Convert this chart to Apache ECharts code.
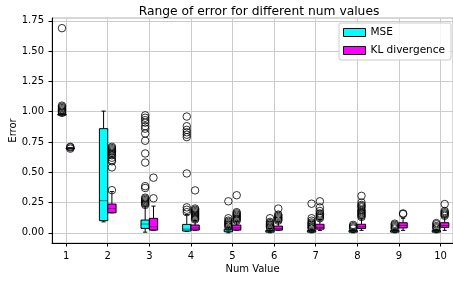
<!DOCTYPE html>
<html>
<head>
<meta charset="utf-8">
<script src="https://cdn.jsdelivr.net/npm/echarts@6/dist/echarts.min.js"></script>
<style>
  html, body { margin: 0; padding: 0; background: #fff; }
  #chart { width: 453px; height: 282px; }
</style>
</head>
<body>
<div id="chart"></div>
<script>
// num values on the x axis
const nums = [1, 2, 3, 4, 5, 6, 7, 8, 9, 10];
const yTicks = [0, 0.25, 0.5, 0.75, 1.0, 1.25, 1.5, 1.75];

// box stats per num: [min, q1, median, q3, max]
const mseStats = [
  [0.98, 0.98, 0.98, 0.98, 0.98],
  [0.09, 0.10, 0.265, 0.86, 1.005],
  [0.005, 0.036, 0.072, 0.105, 0.22],
  [0.01, 0.014, 0.03, 0.069, 0.15],
  [0.0, 0.008, 0.015, 0.03, 0.045],
  [0.0, 0.005, 0.01, 0.02, 0.035],
  [0.0, 0.005, 0.01, 0.02, 0.03],
  [0.0, 0.005, 0.01, 0.02, 0.03],
  [0.0, 0.005, 0.01, 0.02, 0.03],
  [0.0, 0.005, 0.01, 0.02, 0.03]
];
const klStats = [
  [0.70, 0.70, 0.70, 0.70, 0.70],
  [0.165, 0.165, 0.20, 0.237, 0.34],
  [0.02, 0.022, 0.05, 0.119, 0.22],
  [0.02, 0.022, 0.04, 0.064, 0.10],
  [0.02, 0.022, 0.04, 0.064, 0.095],
  [0.02, 0.022, 0.035, 0.055, 0.09],
  [0.02, 0.03, 0.045, 0.07, 0.11],
  [0.02, 0.036, 0.05, 0.07, 0.12],
  [0.02, 0.04, 0.06, 0.083, 0.12],
  [0.02, 0.045, 0.06, 0.083, 0.13]
];

// outliers per num
const mseOutliers = [
  [0.99, 1.0, 1.01, 1.02, 1.03, 1.04, 1.05, 1.69],
  [],
  [0.23, 0.24, 0.25, 0.26, 0.27, 0.28, 0.29, 0.37, 0.385, 0.58, 0.655, 0.76, 0.82, 0.86, 0.88, 0.91, 0.93, 0.95, 0.97],
  [0.17, 0.19, 0.21, 0.49, 0.79, 0.81, 0.83, 0.85, 0.88, 0.96],
  [0.05, 0.06, 0.07, 0.08, 0.09, 0.1, 0.12, 0.26],
  [0.04, 0.05, 0.06, 0.07, 0.08, 0.09, 0.12],
  [0.035, 0.045, 0.055, 0.065, 0.075, 0.085, 0.1, 0.12, 0.24],
  [0.035, 0.045, 0.055, 0.065],
  [0.035, 0.045, 0.055, 0.065, 0.075],
  [0.035, 0.045, 0.055, 0.07, 0.08]
];
const klOutliers = [
  [0.695, 0.705, 0.71],
  [0.352, 0.54, 0.59, 0.6, 0.62, 0.64, 0.65, 0.66, 0.67, 0.68, 0.69, 0.7, 0.71],
  [0.285, 0.455],
  [0.11, 0.12, 0.13, 0.14, 0.15, 0.16, 0.17, 0.18, 0.19, 0.2, 0.35],
  [0.1, 0.11, 0.12, 0.13, 0.14, 0.15, 0.16, 0.17, 0.31],
  [0.1, 0.11, 0.12, 0.13, 0.14, 0.15, 0.2],
  [0.12, 0.13, 0.14, 0.15, 0.16, 0.18, 0.21, 0.26],
  [0.13, 0.14, 0.15, 0.16, 0.17, 0.18, 0.19, 0.21, 0.22, 0.23, 0.25, 0.305],
  [0.155, 0.16],
  [0.14, 0.15, 0.16, 0.17, 0.18, 0.237]
];

const FONT = "DejaVu Sans";
const SHIFT = 0.1;     // box offset from the tick
const HALF = 0.1;      // half box width (axis units)

function boxData(stats, dx) {
  return stats.map((s, i) => [nums[i] + dx].concat(s));
}
function outlierData(outs, dx) {
  const res = [];
  outs.forEach((arr, i) => arr.forEach(v => res.push([nums[i] + dx, v])));
  return res;
}

function makeRender(color) {
  return function (params, api) {
    const x = api.value(0);
    const w = api.size([HALF, 0])[0];
    const p = k => api.coord([x, api.value(k)]);
    const pMin = p(1), pQ1 = p(2), pMed = p(3), pQ3 = p(4), pMax = p(5);
    const cx = pMin[0];
    const cap = w * 0.5;
    const line = (x1, y1, x2, y2, stroke) => ({
      type: 'line',
      shape: { x1, y1, x2, y2 },
      style: { stroke: stroke || '#000', lineWidth: 1 }
    });
    return {
      type: 'group',
      children: [
        line(cx, pQ1[1], cx, pMin[1]),
        line(cx, pQ3[1], cx, pMax[1]),
        line(cx - cap, pMin[1], cx + cap, pMin[1]),
        line(cx - cap, pMax[1], cx + cap, pMax[1]),
        {
          type: 'rect',
          shape: { x: cx - w, y: pQ3[1], width: 2 * w, height: Math.max(pQ1[1] - pQ3[1], 1) },
          style: { fill: color, stroke: '#000', lineWidth: 1 }
        },
        line(cx - w, pMed[1], cx + w, pMed[1], 'rgba(0,0,0,0.5)')
      ]
    };
  };
}

const chart = echarts.init(document.getElementById('chart'), null, { renderer: 'canvas' });

const option = {
  animation: false,
  backgroundColor: '#fff',
  textStyle: { fontFamily: FONT },
  title: {
    text: 'Range of error for different num values',
    left: 254,
    top: 1,
    textAlign: 'center',
    textStyle: { fontFamily: FONT, fontSize: 12.3, fontWeight: 'normal', color: '#000' }
  },
  legend: {
    orient: 'vertical',
    left: 339,
    top: 23,
    padding: [4, 6, 4, 4],
    itemGap: 7,
    itemWidth: 22,
    itemHeight: 8,
    backgroundColor: 'rgba(255,255,255,0.8)',
    borderColor: '#ccc',
    borderWidth: 1,
    borderRadius: 2,
    textStyle: { fontFamily: FONT, fontSize: 10.5, color: '#000' },
    data: [
      { name: 'MSE', icon: 'rect', itemStyle: { color: '#00ffff', borderColor: '#000', borderWidth: 1 } },
      { name: 'KL divergence', icon: 'rect', itemStyle: { color: '#ff00ff', borderColor: '#000', borderWidth: 1 } }
    ]
  },
  grid: {
    left: 52, right: 0, top: 18, bottom: 39,
    containLabel: false,
    outerBoundsMode: 'none',
    show: true,
    borderColor: '#b0b0b0',
    borderWidth: 1
  },
  xAxis: {
    type: 'value',
    min: 0.66,
    max: 10.3,
    name: 'Num Value',
    nameLocation: 'middle',
    nameGap: 21,
    nameMoveOverlap: false,
    nameTextStyle: { fontFamily: FONT, fontSize: 10, color: '#000' },
    axisLine: { show: true, onZero: false, lineStyle: { color: '#000', width: 1 } },
    axisTick: { show: true, customValues: nums, length: 3.5, lineStyle: { color: '#000' } },
    axisLabel: { customValues: nums, margin: 8, fontFamily: FONT, fontSize: 10, color: '#000' },
    splitLine: { show: true, lineStyle: { color: '#cccccc', width: 1 } }
  },
  yAxis: {
    type: 'value',
    min: -0.0845,
    max: 1.774,
    name: 'Error',
    nameLocation: 'middle',
    nameGap: 34,
    nameMoveOverlap: false,
    nameTextStyle: { fontFamily: FONT, fontSize: 10, color: '#000' },
    axisLine: { show: true, onZero: false, lineStyle: { color: '#000', width: 1 } },
    axisTick: { show: true, customValues: yTicks, length: 3.5, lineStyle: { color: '#000' } },
    axisLabel: {
      customValues: yTicks, margin: 8, fontFamily: FONT, fontSize: 10, color: '#000',
      formatter: v => v.toFixed(2)
    },
    splitLine: { show: true, lineStyle: { color: '#cccccc', width: 1 } }
  },
  series: [
    {
      name: 'MSE',
      type: 'custom',
      renderItem: makeRender('#00ffff'),
      itemStyle: { color: '#00ffff' },
      encode: { x: 0, y: [1, 2, 3, 4, 5] },
      data: boxData(mseStats, -SHIFT),
      z: 3
    },
    {
      name: 'KL divergence',
      type: 'custom',
      renderItem: makeRender('#ff00ff'),
      itemStyle: { color: '#ff00ff' },
      encode: { x: 0, y: [1, 2, 3, 4, 5] },
      data: boxData(klStats, SHIFT),
      z: 3
    },
    {
      name: 'MSE outliers',
      type: 'scatter',
      symbol: 'circle',
      symbolSize: 7.5,
      itemStyle: { color: 'rgba(0,0,0,0)', borderColor: '#000', borderWidth: 1 },
      data: outlierData(mseOutliers, -SHIFT),
      z: 4
    },
    {
      name: 'KL outliers',
      type: 'scatter',
      symbol: 'circle',
      symbolSize: 7.5,
      itemStyle: { color: 'rgba(0,0,0,0)', borderColor: '#000', borderWidth: 1 },
      data: outlierData(klOutliers, SHIFT),
      z: 4
    }
  ]
};

chart.setOption(option);
</script>
</body>
</html>
